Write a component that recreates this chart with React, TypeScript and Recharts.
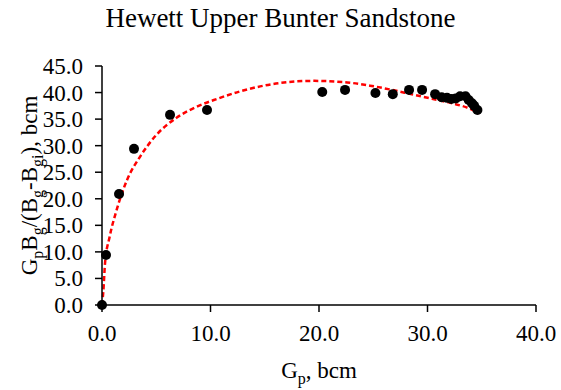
import React from "react";
import { ComposedChart, Scatter, Line, XAxis, YAxis, Label } from "recharts";

const FONT = '"Liberation Serif", "Times New Roman", serif';

// measured points: Gp (bcm) and GpBg/(Bg-Bgi) (bcm)
const gpValues = [0, 0.37, 1.57, 2.95, 6.27, 9.68, 20.3, 22.4, 25.2, 26.8, 28.3, 29.5, 30.7, 31.3, 31.8, 32.2, 32.6, 33.0, 33.5, 33.8, 34.1, 34.3, 34.6];
const ratioValues = [0, 9.4, 20.9, 29.4, 35.8, 36.7, 40.1, 40.5, 39.9, 39.7, 40.5, 40.5, 39.7, 39.1, 39.0, 38.8, 38.9, 39.3, 39.3, 38.6, 38.0, 37.5, 36.7];

// dotted trend line
const fitGp = [0, 0.12, 0.28, 0.7, 1.35, 2.3, 3.5, 5.0, 6.9, 8.7, 10.6, 12.7, 16.4, 19.5, 22.6, 24.7, 26.5, 28.7, 30.5, 32.4, 33.6, 34.8];
const fitRatio = [0, 2.5, 7.9, 12.8, 17.9, 23.5, 27.9, 32.0, 35.3, 37.3, 38.8, 40.2, 41.8, 42.2, 41.9, 41.3, 40.6, 39.6, 38.8, 37.9, 37.2, 36.1];

const xTicks = [0, 10, 20, 30, 40];
const yTicks = [0, 5, 10, 15, 20, 25, 30, 35, 40, 45];

const points = gpValues.map((x, i) => ({ x, y: ratioValues[i] }));
const fit = fitGp.map((x, i) => ({ x, y: fitRatio[i] }));

const AXIS = { stroke: "#000", strokeWidth: 1.5 };

function XTick({ x, y, payload }: any) {
  return (
    <text x={x} y={y} dy={16} textAnchor="middle" fontFamily={FONT} fontSize={23} fill="#000">
      {payload.value.toFixed(1)}
    </text>
  );
}

function YTick({ x, y, payload }: any) {
  return (
    <text x={x} y={y} dy={8} textAnchor="end" fontFamily={FONT} fontSize={23} fill="#000">
      {payload.value.toFixed(1)}
    </text>
  );
}

function Dot({ cx, cy }: any) {
  return <circle cx={cx} cy={cy} r={5} fill="#000" />;
}

function YTitle({ viewBox }: any) {
  const cx = 37;
  const cy = viewBox.y + viewBox.height / 2;
  const sub = { fontSize: 16 };
  return (
    <text
      x={cx}
      y={cy}
      transform={`rotate(-90, ${cx}, ${cy})`}
      textAnchor="middle"
      fontFamily={FONT}
      fontSize={23}
      fill="#000"
    >
      <tspan>G</tspan>
      <tspan {...sub} dy={6}>p</tspan>
      <tspan dy={-6}>B</tspan>
      <tspan {...sub} dy={6}>g</tspan>
      <tspan dy={-6}>/(B</tspan>
      <tspan {...sub} dy={6}>g</tspan>
      <tspan dy={-6}>-B</tspan>
      <tspan {...sub} dy={6}>gi</tspan>
      <tspan dy={-6}>), bcm</tspan>
    </text>
  );
}

function XTitle({ viewBox }: any) {
  const cx = viewBox.x + viewBox.width / 2;
  return (
    <text x={cx} y={378} textAnchor="middle" fontFamily={FONT} fontSize={23} fill="#000">
      <tspan>G</tspan>
      <tspan fontSize={16} dy={6}>p</tspan>
      <tspan dy={-6}>, bcm</tspan>
    </text>
  );
}

export default function App() {
  return (
    <div
      style={{
        position: "absolute",
        left: 0,
        top: 0,
        width: 561,
        height: 390,
        background: "#fff",
        fontFamily: FONT,
      }}
    >
      <div
        style={{
          position: "absolute",
          top: 3,
          left: 0,
          width: 561,
          textAlign: "center",
          fontSize: 27,
          color: "#000",
        }}
      >
        Hewett Upper Bunter Sandstone
      </div>
      <ComposedChart width={561} height={390} margin={{ top: 66, right: 25, left: 0, bottom: 0 }}>
        <XAxis
          type="number"
          dataKey="x"
          domain={[0, 40]}
          ticks={xTicks}
          axisLine={AXIS}
          tickLine={AXIS}
          tickSize={7}
          tickMargin={13}
          tick={<XTick />}
          height={85}
          interval={0}
        >
          <Label content={<XTitle />} />
        </XAxis>
        <YAxis
          type="number"
          dataKey="y"
          domain={[0, 45]}
          ticks={yTicks}
          axisLine={AXIS}
          tickLine={AXIS}
          tickSize={7}
          tickMargin={12}
          tick={<YTick />}
          width={102}
          interval={0}
        >
          <Label content={<YTitle />} />
        </YAxis>
        <Scatter data={points} fill="#000" shape={<Dot />} isAnimationActive={false} />
        <Line
          data={fit}
          dataKey="y"
          type="monotone"
          stroke="#ff0000"
          strokeWidth={2.5}
          strokeDasharray="5 3"
          dot={false}
          activeDot={false}
          isAnimationActive={false}
        />
      </ComposedChart>
    </div>
  );
}
